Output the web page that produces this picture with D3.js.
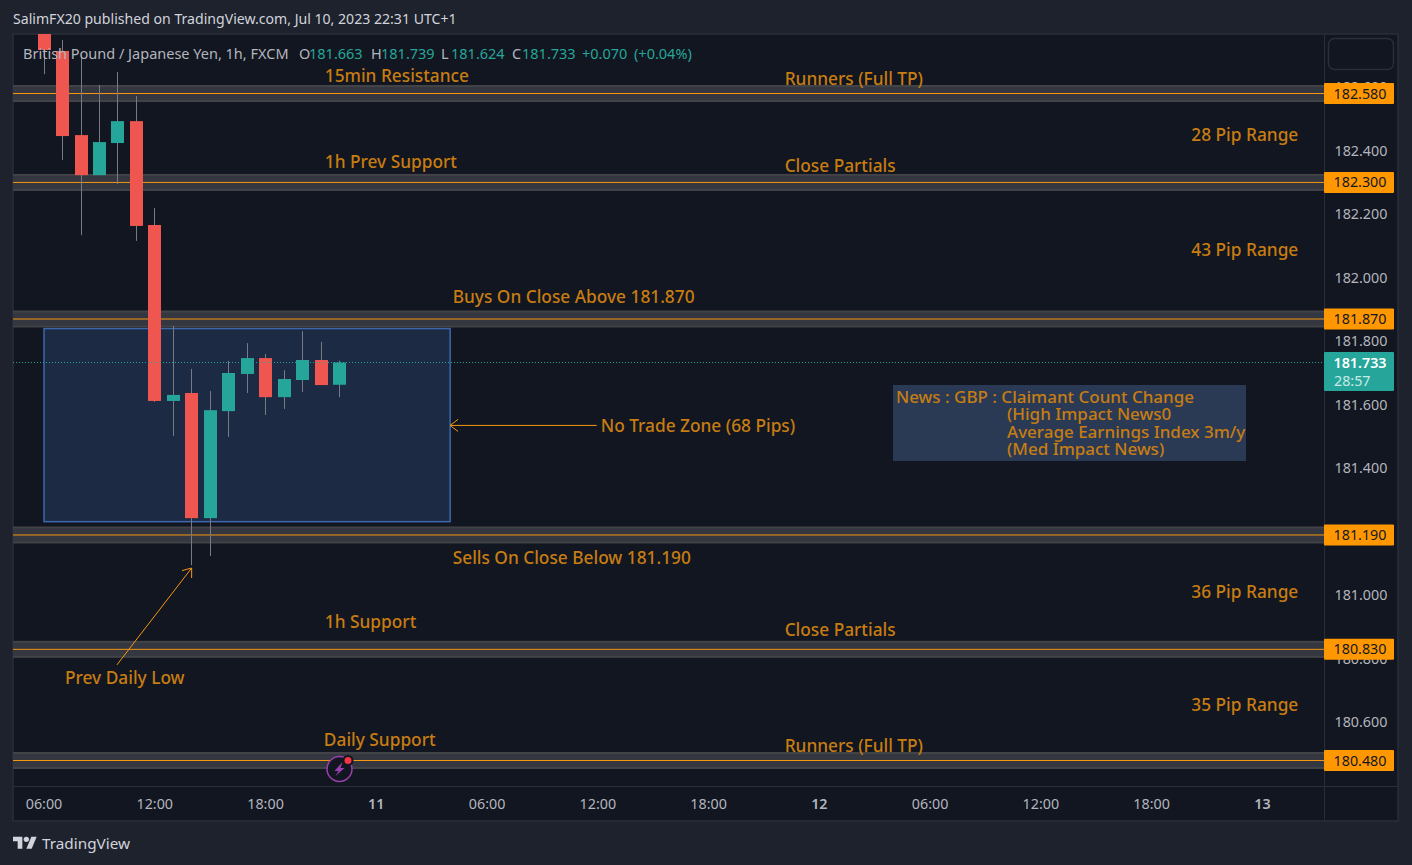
<!DOCTYPE html>
<html>
<head>
  <meta charset="UTF-8">
  <title>GBPJPY 1h</title>
  <style>
    body { margin: 0; background: #1e222d; overflow: hidden; }
    svg { display: block; font-family: 'Noto Sans', sans-serif; }
    .axis text { fill: #b2b5be; font-size: 14.3px; font-family: 'Noto Sans', sans-serif; }
    .axis path, .axis line { display: none; }
    .note { fill: #c77d12; font-size: 17.3px; font-weight: 500; }
    .news { fill: #c77d12; font-size: 17px; font-weight: 500; }
  </style>
</head>
<body>
  <div id="container"></div>
  <script src="https://d3js.org/d3.v7.min.js"></script>
  <script>
  // hours since 10 Jul 06:00
  var candleHours = [0, 1, 2, 3, 4, 5, 6, 7, 8, 9, 10, 11, 12, 13, 14, 15, 16];
  var opens  = [182.800, 182.714, 182.449, 182.323, 182.424, 182.493, 182.166, 181.612, 181.637, 181.243, 181.580, 181.697, 181.747, 181.624, 181.678, 181.741, 181.663];
  var highs  = [182.850, 182.748, 182.701, 182.607, 182.648, 182.572, 182.219, 181.848, 181.713, 181.643, 181.738, 181.794, 181.760, 181.709, 181.832, 181.798, 181.739];
  var lows   = [182.641, 182.371, 182.134, 182.323, 182.295, 182.116, 181.609, 181.502, 181.095, 181.124, 181.499, 181.637, 181.568, 181.587, 181.640, 181.662, 181.624];
  var closes = [182.717, 182.446, 182.323, 182.427, 182.493, 182.163, 181.612, 181.631, 181.243, 181.583, 181.700, 181.747, 181.624, 181.681, 181.741, 181.662, 181.733];

  var levels = [182.580, 182.300, 181.870, 181.190, 180.830, 180.480];
  var priceTicks = [182.6, 182.4, 182.2, 182.0, 181.8, 181.6, 181.4, 181.0, 180.8, 180.6];
  var timeTicks = [0, 6, 12, 18, 24, 30, 36, 42, 48, 54, 60, 66];
  var lastPrice = 181.733;
  var countdown = "28:57";

  // no trade zone: start/end hour, top/bottom price
  var zoneHours = [0, 22];
  var zonePrices = [181.840, 181.232];

  // annotations anchored like drawing tools: text, hour, price
  var noteTexts  = ["15min Resistance", "Runners (Full TP)", "28 Pip Range", "1h Prev Support", "Close Partials", "43 Pip Range", "Buys On Close Above 181.870", "No Trade Zone (68 Pips)", "Sells On Close Below 181.190", "36 Pip Range", "1h Support", "Close Partials", "Prev Daily Low", "35 Pip Range", "Daily Support", "Runners (Full TP)"];
  var noteHours  = [15.21, 40.12, 62.15, 15.21, 40.12, 62.15, 22.14, 30.16, 22.14, 62.15, 15.21, 40.12, 1.14, 62.15, 15.16, 40.12];
  var notePrices = [182.616, 182.607, 182.430, 182.345, 182.333, 182.068, 181.920, 181.514, 181.099, 180.992, 180.897, 180.872, 180.721, 180.636, 180.526, 180.507];

  // arrows: from hour/price to hour/price
  var arrowFromHours = [29.94, 3.95];
  var arrowFromPrices = [181.535, 180.781];
  var arrowToHours = [22.0, 8.0];
  var arrowToPrices = [181.535, 181.086];

  var newsLines = ["News : GBP : Claimant Count Change", "(High Impact News0", "Average Earnings Index 3m/y", "(Med Impact News)"];

  var legendName = "British Pound / Japanese Yen, 1h, FXCM";
  var legendKeys = ["O", "H", "L", "C"];
  var legendVals = ["181.663", "181.739", "181.624", "181.733"];
  var legendChange = ["+0.070", "(+0.04%)"];

  //////////////////////////////////////////////////////////////////////

  var W = 1412, H = 865;
  var pane = { left: 13, right: 1325, top: 34, bottom: 786, outer: 1398, end: 821 };
  var base = new Date(2023, 6, 10, 6).getTime();
  function t(h) { return new Date(base + h * 3600e3); }

  var x = d3.scaleTime().domain([t(0), t(66)]).range([44, 1262.4]);
  var y = d3.scaleLinear().domain([180.48, 182.58]).range([760.5, 93.5]);
  var red = "#f05650", teal = "#26a69a", orange = "#ff9800", wick = "#787b86";
  var barW = 13;

  // snap candles to whole pixels like the chart does
  function cx(h) { return Math.round(x(t(h)) - 0.4) + 0.5; }

  var svg = d3.select("#container").append("svg").attr("width", W).attr("height", H);

  svg.append("rect").attr("width", W).attr("height", H).attr("fill", "#1e222d");
  svg.append("text").attr("x", 13).attr("y", 24).attr("fill", "#d1d4dc").attr("font-size", 14.1)
    .text("SalimFX20 published on TradingView.com, Jul 10, 2023 22:31 UTC+1");

  svg.append("rect").attr("x", pane.left).attr("y", pane.top)
    .attr("width", pane.outer - pane.left).attr("height", pane.end - pane.top)
    .attr("fill", "#121620").attr("stroke", "#2a2e39").attr("stroke-width", 1.5);

  svg.append("clipPath").attr("id", "paneclip").append("rect")
    .attr("x", pane.left).attr("y", pane.top)
    .attr("width", pane.right - pane.left).attr("height", pane.bottom - pane.top);

  var plot = svg.append("g").attr("clip-path", "url(#paneclip)");

  // zone
  plot.append("rect")
    .attr("x", x(t(zoneHours[0]))).attr("y", y(zonePrices[0]))
    .attr("width", x(t(zoneHours[1])) - x(t(zoneHours[0])))
    .attr("height", y(zonePrices[1]) - y(zonePrices[0]))
    .attr("fill", "#1c2a44").attr("stroke", "#3d68ad").attr("stroke-width", 1.5);

  // level bands
  var band = plot.selectAll(".level").data(levels).enter().append("g").attr("class", "level");
  band.append("rect").attr("x", pane.left).attr("width", pane.right - pane.left)
    .attr("y", function(d) { return y(d) - 8.5; }).attr("height", 17).attr("fill", "#424347");
  band.append("rect").attr("x", pane.left).attr("width", pane.right - pane.left)
    .attr("y", function(d) { return y(d) - 6.5; }).attr("height", 13).attr("fill", "#343640");
  band.append("line").attr("x1", pane.left).attr("x2", pane.right)
    .attr("y1", function(d) { return y(d); }).attr("y2", function(d) { return y(d); })
    .attr("stroke", "#f7970f").attr("stroke-width", 1);

  // candles
  var c = plot.selectAll(".candle").data(candleHours).enter().append("g").attr("class", "candle");
  c.append("line")
    .attr("x1", function(d) { return cx(d); })
    .attr("x2", function(d) { return cx(d); })
    .attr("y1", function(d, i) { return y(highs[i]); })
    .attr("y2", function(d, i) { return y(lows[i]); })
    .attr("stroke", wick).attr("stroke-width", 1);
  c.append("rect")
    .attr("x", function(d) { return cx(d) - barW / 2; })
    .attr("width", barW)
    .attr("y", function(d, i) { return y(Math.max(opens[i], closes[i])); })
    .attr("height", function(d, i) { return Math.abs(y(opens[i]) - y(closes[i])); })
    .attr("fill", function(d, i) { return closes[i] >= opens[i] ? teal : red; });

  // last price line
  plot.append("line").attr("x1", pane.left).attr("x2", pane.right)
    .attr("y1", y(lastPrice)).attr("y2", y(lastPrice))
    .attr("stroke", teal).attr("stroke-width", 1).attr("stroke-dasharray", "1,2");

  // news box
  var newsG = plot.append("g");
  newsG.append("rect").attr("x", 893).attr("y", 385).attr("width", 353).attr("height", 76).attr("fill", "#2a3a55");
  newsG.selectAll("text").data(newsLines).enter().append("text")
    .attr("class", "news")
    .attr("x", function(d, i) { return i == 0 ? 896 : 1007; })
    .attr("y", function(d, i) { return [403, 420, 438, 455][i]; })
    .text(function(d) { return d; });

  // notes
  plot.selectAll(".anno").data(noteTexts).enter().append("text")
    .attr("class", "note anno")
    .attr("x", function(d, i) { return x(t(noteHours[i])); })
    .attr("y", function(d, i) { return y(notePrices[i]); })
    .text(function(d) { return d; });

  // arrows
  arrowToHours.forEach(function(h, i) {
    var x0 = x(t(arrowFromHours[i])), y0 = y(arrowFromPrices[i]);
    var x1 = x(t(h)), y1 = y(arrowToPrices[i]);
    var a = Math.atan2(y1 - y0, x1 - x0), s = 10, o = 0.65;
    var line = d3.path();
    line.moveTo(x0, y0); line.lineTo(x1, y1);
    line.moveTo(x1 - s * Math.cos(a - o), y1 - s * Math.sin(a - o));
    line.lineTo(x1, y1);
    line.lineTo(x1 - s * Math.cos(a + o), y1 - s * Math.sin(a + o));
    plot.append("path").attr("d", line.toString()).attr("fill", "none")
      .attr("stroke", "#f7970f").attr("stroke-width", 1);
  });

  // legend
  var lg = svg.append("text").attr("y", 59).attr("font-size", 14.5);
  lg.append("tspan").attr("x", 23).attr("fill", "#b2b5be").text(legendName);
  var keyX = [299, 371, 441, 512];
  legendKeys.forEach(function(k, i) {
    lg.append("tspan").attr("x", keyX[i]).attr("fill", "#b2b5be").text(k);
    lg.append("tspan").attr("x", keyX[i] + 10).attr("fill", teal).text(legendVals[i]);
  });
  lg.append("tspan").attr("x", 582).attr("fill", teal).text(legendChange[0]);
  lg.append("tspan").attr("x", 634).attr("fill", teal).text(legendChange[1]);

  // event icon
  var ic = svg.append("g").attr("transform", "translate(" + cx(16) + ",769)");
  ic.append("circle").attr("r", 12.5).attr("fill", "#121620").attr("stroke", "#9c3fb0").attr("stroke-width", 1.5);
  ic.append("path").attr("d", "M3,-7 L-5,2 L-1,2 L-4,7 L5,-1 L1,-1 Z").attr("fill", "#9c3fb0");
  ic.append("circle").attr("cx", 8.5).attr("cy", -8.5).attr("r", 4.5).attr("fill", "#f23645").attr("stroke", "#121620").attr("stroke-width", 2);

  // axes
  svg.append("line").attr("x1", pane.right - 0.5).attr("x2", pane.right - 0.5).attr("y1", pane.top).attr("y2", pane.end).attr("stroke", "#2a2e39");
  svg.append("line").attr("x1", pane.left).attr("x2", pane.outer).attr("y1", pane.bottom + 0.5).attr("y2", pane.bottom + 0.5).attr("stroke", "#2a2e39");

  svg.append("g").attr("class", "axis").attr("transform", "translate(" + pane.right + ",0)")
    .call(d3.axisRight(y).tickValues(priceTicks).tickFormat(d3.format(".3f")).tickSize(0).tickPadding(9.5));

  var hm = d3.timeFormat("%H:%M"), day = d3.timeFormat("%-d");
  svg.append("g").attr("class", "axis").attr("transform", "translate(0," + pane.bottom + ")")
    .call(d3.axisBottom(x).tickValues(timeTicks.map(t)).tickFormat(function(d) {
      return d.getHours() == 0 ? day(d) : hm(d);
    }).tickSize(0).tickPadding(12.5).offset(0))
    .selectAll("text").attr("font-weight", function(d) { return d.getHours() == 0 ? 600 : 400; });

  // price tags
  var tags = svg.selectAll(".tag").data(levels).enter().append("g").attr("class", "tag");
  tags.append("rect").attr("x", pane.right - 1).attr("width", 70)
    .attr("y", function(d) { return y(d) - 10.5; }).attr("height", 21).attr("rx", 1).attr("fill", orange);
  tags.append("text").attr("x", pane.right + 35).attr("text-anchor", "middle")
    .attr("y", function(d) { return y(d) + 5; }).attr("font-size", 14.3).attr("fill", "#131722")
    .text(d3.format(".3f"));

  svg.append("rect").attr("x", pane.right - 1).attr("y", y(lastPrice) - 10.5).attr("width", 70).attr("height", 39).attr("rx", 1).attr("fill", teal);
  svg.append("text").attr("x", pane.right + 35).attr("text-anchor", "middle").attr("y", y(lastPrice) + 5)
    .attr("font-size", 14.3).attr("font-weight", 600).attr("fill", "#fff").text(d3.format(".3f")(lastPrice));
  svg.append("text").attr("x", pane.right + 9).attr("y", y(lastPrice) + 23)
    .attr("font-size", 14.3).attr("fill", "#c9ebe7").text(countdown);

  // empty button top right
  svg.append("rect").attr("x", 1328.5).attr("y", 38.5).attr("width", 65).attr("height", 31).attr("rx", 6)
    .attr("fill", "none").attr("stroke", "#2a2e39").attr("stroke-width", 1.5);

  // logo
  var logo = svg.append("g").attr("transform", "translate(13,834) scale(0.667)").attr("fill", "#d1d4dc");
  logo.append("path").attr("d", "M14 22H7V11H0V4h14v18zM28 22h-8l7.5-18h8L28 22z");
  logo.append("circle").attr("cx", 20).attr("cy", 8).attr("r", 4);
  svg.append("text").attr("x", 42).attr("y", 849).attr("font-size", 15.3).attr("fill", "#d1d4dc").text("TradingView");
  </script>
</body>
</html>
